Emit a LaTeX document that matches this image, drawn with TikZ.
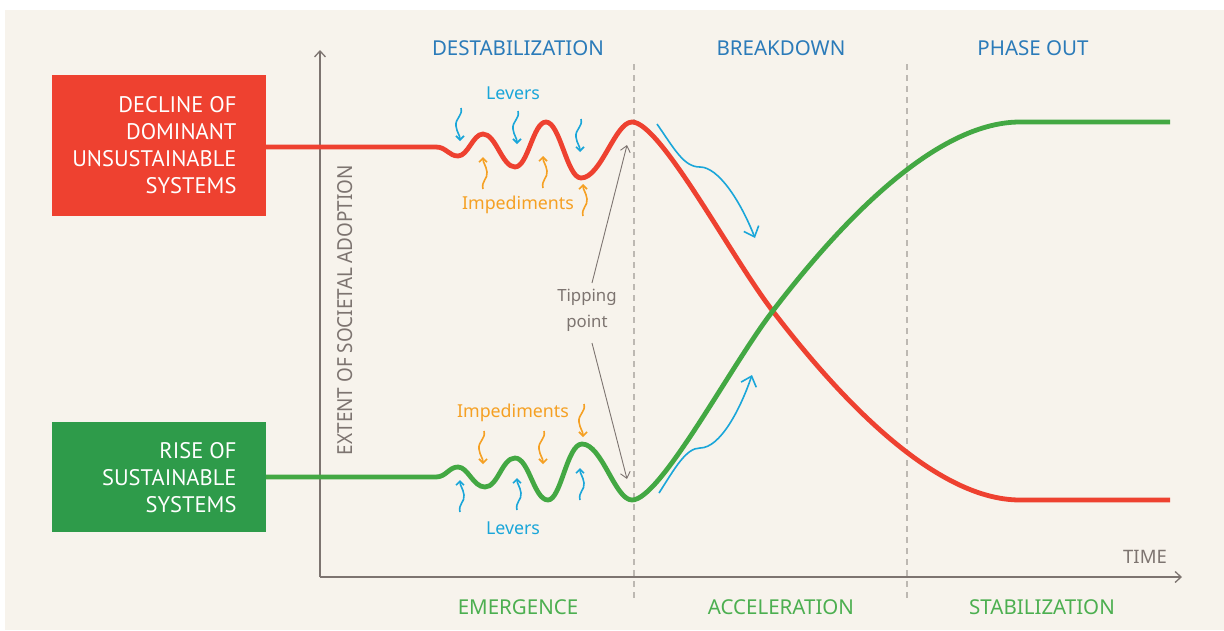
\documentclass[tikz,border=0pt]{standalone}
\usepackage{fontspec}
\setmainfont{Noto Sans}
\newfontfamily\boxfont{PT Sans}
\usetikzlibrary{arrows.meta}
\definecolor{bgbeige}{HTML}{F7F3EC}
\definecolor{redc}{HTML}{EE4130}
\definecolor{greenbox}{HTML}{2E9B4A}
\definecolor{greenline}{HTML}{43A843}
\definecolor{greentext}{HTML}{4CAF50}
\definecolor{headblue}{HTML}{2B7BB9}
\definecolor{levblue}{HTML}{1AA6D9}
\definecolor{impor}{HTML}{F5A023}
\definecolor{axgray}{HTML}{7D7470}
\definecolor{dashgray}{HTML}{BDB8B2}
\tikzset{
  boxtext/.style={text=white,font=\boxfont\fontsize{22.5}{27}\selectfont,align=right,anchor=east},
  phasehead/.style={text=headblue,font=\fontsize{20.5}{24}\selectfont},
  phasefoot/.style={text=greentext,font=\fontsize{20.5}{24}\selectfont},
  curve/.style={line width=4.8pt,line join=round},
  axisline/.style={draw=axgray,line width=1.4pt,-{Straight Barb[length=6pt,width=11pt,line width=1.3pt]}},
  phasesep/.style={draw=dashgray,line width=1.6pt,dash pattern=on 6pt off 5pt},
  lever/.style={draw=levblue,line width=1.6pt,-{Straight Barb[length=4pt,width=8pt]}},
  imped/.style={draw=impor,line width=1.6pt,-{Straight Barb[length=4pt,width=8pt]}},
  bigarrow/.style={draw=levblue,line width=1.6pt,-{Straight Barb[length=9pt,width=16pt]}},
  tipline/.style={draw=axgray,line width=0.9pt,-{Straight Barb[length=6pt,width=10pt]}},
  smalllab/.style={font=\fontsize{17.8}{25}\selectfont},
}
\newcommand\squigdown[3]{% style, x, y(top)
  \draw[#1] (#2+2,#3) .. controls (#2+4,#3+8) and (#2-4,#3+10) .. (#2-3,#3+18)
     .. controls (#2-2,#3+25) and (#2+1,#3+27) .. (#2+1,#3+33);}
\newcommand\squigup[3]{% style, x, y(bottom)
  \draw[#1] (#2-1,#3) .. controls (#2-3,#3-8) and (#2+4,#3-10) .. (#2+3,#3-17)
     .. controls (#2+2,#3-24) and (#2-1,#3-26) .. (#2-1,#3-32);}
\begin{document}
\begin{tikzpicture}[x=1pt,y=-1pt]
\useasboundingbox (0,0) rectangle (1224,630);
\fill[white] (0,0) rectangle (1224,630);
\fill[bgbeige] (5,10) rectangle (1224,630);

% boxes
\fill[redc] (52,75) rectangle (266,216);
\node[boxtext] (redtxt) at (240,145.5) {DECLINE OF\\DOMINANT\\UNSUSTAINABLE\\SYSTEMS};
\fill[greenbox] (52,422) rectangle (266,532);
\node[boxtext] (greentxt) at (240,477.5) {RISE OF\\SUSTAINABLE\\SYSTEMS};

% phase separators
\coordinate (s1t) at (634,64); \coordinate (s1b) at (634,598);
\coordinate (s2t) at (907,64); \coordinate (s2b) at (907,598);
\draw[phasesep] (s1t) -- (s1b);
\draw[phasesep] (s2t) -- (s2b);

% axes
\coordinate (origin) at (320,577);
\coordinate (ytop) at (320,50);
\coordinate (xend) at (1182,577);
\draw[axisline] (origin) -- (ytop);
\draw[axisline] (origin) -- (xend);
\node[text=axgray,rotate=90,inner sep=0pt] (ylab) at (345,310) {\resizebox{290pt}{15pt}{\fontsize{20}{24}\selectfont EXTENT OF SOCIETAL ADOPTION}};
\node[text=axgray,font=\fontsize{18.5}{22}\selectfont] (xlab) at (1145,557) {TIME};

% headers
\node[phasehead] (h1) at (518,48) {DESTABILIZATION};
\node[phasehead] (h2) at (781,48) {BREAKDOWN};
\node[phasehead] (h3) at (1033,48) {PHASE OUT};
\node[phasefoot] (f1) at (518,607) {EMERGENCE};
\node[phasefoot] (f2) at (781,607) {ACCELERATION};
\node[phasefoot] (f3) at (1042,607) {STABILIZATION};

% red curve
\draw[curve,draw=redc]
  (266,147) -- (436,147)
  .. controls (446,147) and (449,156) .. (458,156)
  .. controls (468,156) and (473,134) .. (483,134)
  .. controls (496,134) and (502,167) .. (515,167)
  .. controls (528,167) and (533,122) .. (546,122)
  .. controls (560,122) and (567,178) .. (581,178)
  .. controls (601,178) and (615,122) .. (632,122)
  .. controls (660,122) and (730,255) .. (772,310)
  .. controls (830,386) and (930,500) .. (1020,500)
  -- (1170,500);

% green curve
\draw[curve,draw=greenline]
  (266,477) -- (436,477)
  .. controls (446,477) and (449,467) .. (458,467)
  .. controls (468,467) and (473,487) .. (485,487)
  .. controls (498,487) and (502,458) .. (515,458)
  .. controls (529,458) and (534,500) .. (548,500)
  .. controls (561,500) and (567,444) .. (582,444)
  .. controls (602,444) and (615,500) .. (632,500)
  .. controls (660,500) and (730,367) .. (772,312)
  .. controls (830,236) and (930,122) .. (1020,122)
  -- (1170,122);

% levers / impediments (top)
\node[smalllab,text=levblue] (levtop) at (513,93) {Levers};
\squigdown{lever}{459}{108}
\squigdown{lever}{516}{111}
\squigdown{lever}{579}{119}
\node[smalllab,text=impor] (imptop) at (518,205) {Impediments};
\squigup{imped}{484}{189}
\squigup{imped}{544}{188}
\squigup{imped}{584}{216}

% levers / impediments (bottom)
\node[smalllab,text=impor] (impbot) at (513,413) {Impediments};
\squigdown{imped}{482}{431}
\squigdown{imped}{542}{431}
\squigdown{imped}{582}{404}
\node[smalllab,text=levblue] (levbot) at (513,528) {Levers};
\squigup{lever}{461}{512}
\squigup{lever}{518}{510}
\squigup{lever}{581}{500}

% tipping point
\node[smalllab,text=axgray,align=center,font=\fontsize{16.8}{26}\selectfont] (tip) at (587,310) {Tipping\\point};
\coordinate (tiptop) at (627,145);
\coordinate (tipbot) at (627,479);
\coordinate (tipa) at (592,283);
\coordinate (tipb) at (592,343);
\draw[tipline] (tipa) -- (tiptop);
\draw[tipline] (tipb) -- (tipbot);

% big arrows
\coordinate (ba1s) at (657,124); \coordinate (ba1e) at (755,238);
\draw[bigarrow] (ba1s) .. controls (675,150) and (684,167) .. (700,167) .. controls (718,167) and (740,200) .. (ba1e);
\coordinate (ba2s) at (659,493); \coordinate (ba2e) at (752,375);
\draw[bigarrow] (ba2s) .. controls (675,468) and (686,448) .. (700,448) .. controls (720,448) and (740,410) .. (ba2e);
\end{tikzpicture}
\end{document}
